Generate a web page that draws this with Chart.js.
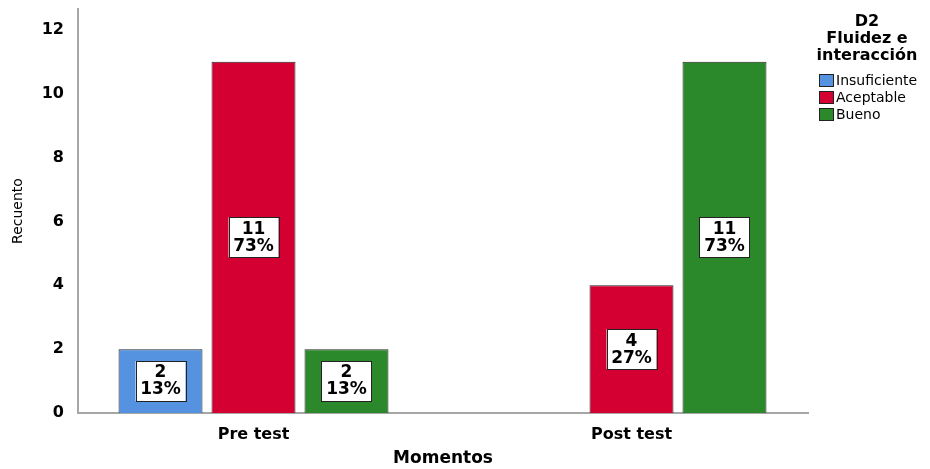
<!DOCTYPE html>
<html>
<head>
<meta charset="utf-8">
<script src="https://cdn.jsdelivr.net/npm/chart.js@4.4.1/dist/chart.umd.min.js"></script>
<style>
  html, body { margin: 0; padding: 0; background: #fff; }
  #wrap { width: 930px; height: 469px; }
</style>
</head>
<body>
<div id="wrap"><canvas id="chart"></canvas></div>
<script>
// datos
const momentos = ['Pre test', 'Post test'];
const niveles = ['Insuficiente', 'Aceptable', 'Bueno'];
const insuficiente = [2, null];
const aceptable = [11, 4];
const bueno = [2, 11];
const colores = ['#5592e0', '#d50032', '#2b882b'];
const yTicks = [0, 2, 4, 6, 8, 10, 12];
const tituloLeyenda = ['D2', 'Fluidez e', 'interacción'];

const series = [insuficiente, aceptable, bueno];
const totales = momentos.map((m, i) => series.reduce((s, d) => s + (d[i] || 0), 0));

const FONT = "'DejaVu Sans', sans-serif";

// etiquetas blancas dentro de las barras
const etiquetas = {
  id: 'etiquetas',
  afterDatasetsDraw(chart) {
    const ctx = chart.ctx;
    ctx.save();
    chart.data.datasets.forEach((ds, di) => {
      const meta = chart.getDatasetMeta(di);
      meta.data.forEach((bar, i) => {
        const v = ds.data[i].y;
        if (v === null || v === undefined) return;
        const cy = (bar.y + bar.base) / 2;
        const w = 50, h = 40;
        ctx.fillStyle = '#fff';
        ctx.fillRect(bar.x - w / 2, cy - h / 2, w, h);
        ctx.strokeStyle = '#222';
        ctx.lineWidth = 1;
        ctx.strokeRect(Math.round(bar.x - w / 2) + 0.5, Math.round(cy - h / 2) + 0.5, w, h);
        ctx.fillStyle = '#000';
        ctx.font = 'bold 17px ' + FONT;
        ctx.textAlign = 'center';
        ctx.textBaseline = 'middle';
        ctx.fillText(String(v), bar.x, cy - 8);
        ctx.fillText(Math.round(v / totales[i] * 100) + '%', bar.x, cy + 9);
      });
    });
    ctx.restore();
  }
};

// leyenda a la derecha
const leyenda = {
  id: 'leyenda',
  afterDraw(chart) {
    const ctx = chart.ctx;
    ctx.save();
    ctx.fillStyle = '#000';
    ctx.textAlign = 'center';
    ctx.textBaseline = 'middle';
    ctx.font = 'bold 16px ' + FONT;
    tituloLeyenda.forEach((t, i) => ctx.fillText(t, 867, 22 + i * 17));
    ctx.font = '14px ' + FONT;
    ctx.textAlign = 'left';
    niveles.forEach((n, i) => {
      const y = 81 + i * 17;
      ctx.fillStyle = colores[i];
      ctx.fillRect(819, y - 7, 15, 13);
      ctx.strokeStyle = '#222';
      ctx.lineWidth = 1;
      ctx.strokeRect(819.5, y - 6.5, 14, 12);
      ctx.fillStyle = '#000';
      ctx.fillText(n, 836, y);
    });
    ctx.restore();
  }
};

new Chart(document.getElementById('chart'), {
  type: 'bar',
  data: {
    datasets: niveles.map((n, k) => ({
      label: n,
      data: momentos.map((m, i) => ({ x: i, y: series[k][i] })),
      backgroundColor: colores[k],
      borderColor: '#262626',
      borderWidth: 1,
      categoryPercentage: 0.738,
      barPercentage: 0.903
    }))
  },
  options: {
    responsive: true,
    maintainAspectRatio: false,
    animation: false,
    layout: { padding: { top: 9, right: 122, bottom: 0, left: 0 } },
    plugins: {
      legend: { display: false },
      tooltip: { enabled: false }
    },
    scales: {
      x: {
        type: 'linear',
        offset: false,
        min: -0.4643,
        max: 1.4669,
        grid: { display: false },
        border: { display: true, color: '#a6a6a6', width: 2 },
        afterBuildTicks: s => { s.ticks = momentos.map((m, i) => ({ value: i })); },
        afterFit: s => { s.height = 56; s.paddingLeft = 0; s.paddingRight = 0; },
        ticks: {
          padding: 4,
          color: '#000',
          font: { family: FONT, size: 16, weight: 'bold' },
          callback: v => momentos[v]
        },
        title: {
          display: true,
          text: 'Momentos',
          color: '#000',
          font: { family: FONT, size: 17, weight: 'bold' },
          padding: { top: 0, bottom: 0 }
        }
      },
      y: {
        min: 0,
        max: 12.65,
        grid: { display: false },
        border: { display: true, color: '#a6a6a6', width: 2 },
        afterBuildTicks: s => { s.ticks = yTicks.map(v => ({ value: v })); },
        afterFit: s => { s.width = 78; s.paddingTop = 0; s.paddingBottom = 0; },
        ticks: {
          padding: 6,
          color: '#000',
          font: { family: FONT, size: 16, weight: 'bold' }
        },
        title: {
          display: true,
          text: 'Recuento',
          color: '#000',
          font: { family: FONT, size: 14 },
          padding: { top: 10, bottom: 0 }
        }
      }
    }
  },
  plugins: [etiquetas, leyenda]
});
</script>
</body>
</html>
